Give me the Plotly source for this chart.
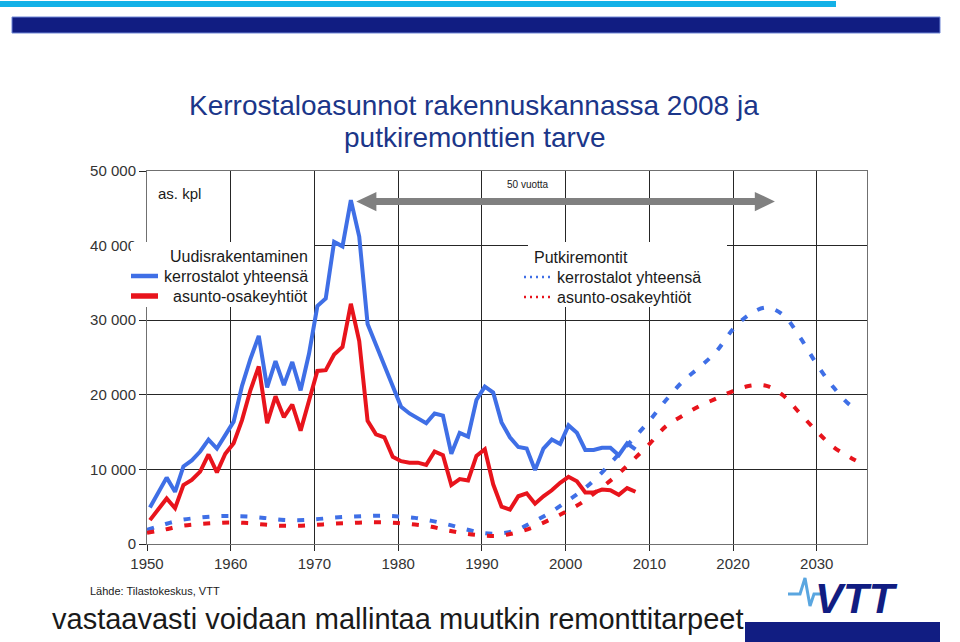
import plotly.graph_objects as go

# ---------------- data (values in thousands of dwellings) ----------------
years_new = list(range(1950, 2009))
new_total = [4.9, 6.8, 8.9, 7.0, 10.4, 11.2, 12.4, 14.0, 12.8, 14.6,
             16.4, 21.2, 24.8, 27.9, 21.0, 24.5, 21.3, 24.4, 20.6, 25.5,
             31.9, 32.9, 40.5, 39.9, 46.1, 41.2, 29.5, 26.7, 23.9, 21.0,
             18.4, 17.5, 16.8, 16.2, 17.5, 17.2, 12.1, 14.9, 14.4, 19.3,
             21.1, 20.3, 16.3, 14.3, 13.0, 12.8, 9.9, 12.8, 14.0, 13.4,
             15.9, 14.9, 12.6, 12.6, 12.9, 12.9, 11.9, 13.5, 12.7]
new_coop = [3.2, 4.6, 6.1, 4.8, 7.9, 8.6, 9.7, 12.0, 9.6, 12.1,
            13.5, 16.6, 20.6, 23.8, 16.2, 19.8, 17.0, 18.7, 15.2, 19.2,
            23.2, 23.3, 25.4, 26.4, 32.2, 27.2, 16.5, 14.7, 14.3, 11.7,
            11.1, 10.9, 10.9, 10.6, 12.4, 11.9, 7.9, 8.7, 8.5, 11.8,
            12.7, 8.0, 5.0, 4.6, 6.4, 6.8, 5.4, 6.4, 7.2, 8.2,
            9.0, 8.4, 6.9, 6.9, 7.3, 7.2, 6.6, 7.5, 7.0]

years_pipe = [1950, 1952, 1954, 1956, 1958, 1960, 1962, 1964, 1966, 1968,
              1970, 1972, 1974, 1976, 1978, 1980, 1982, 1984, 1986, 1988,
              1990, 1992, 1994, 1996, 1998, 2000, 2002, 2004, 2006, 2008,
              2010, 2012, 2014, 2016, 2018, 2020, 2022, 2024, 2026, 2028,
              2030, 2032, 2034, 2035]
pipe_total = [1.9, 2.6, 3.2, 3.5, 3.7, 3.75, 3.7, 3.5, 3.25, 3.2,
              3.3, 3.5, 3.65, 3.75, 3.8, 3.7, 3.5, 3.1, 2.6, 2.0,
              1.5, 1.4, 1.8, 2.9, 4.1, 5.6, 7.2, 9.2, 11.6, 14.0,
              16.5, 19.3, 21.8, 23.7, 25.8, 28.8, 30.8, 31.7, 30.7, 27.7,
              24.1, 21.0, 18.6, 18.0]
pipe_coop = [1.5, 1.9, 2.4, 2.65, 2.8, 2.9, 2.8, 2.6, 2.45, 2.45,
             2.55, 2.7, 2.8, 2.9, 2.9, 2.8, 2.6, 2.3, 1.8, 1.4,
             1.15, 1.1, 1.5, 2.2, 3.2, 4.3, 5.6, 7.3, 9.1, 11.2,
             13.4, 15.8, 17.2, 18.5, 19.5, 20.5, 21.2, 21.2, 19.9, 17.5,
             15.1, 13.0, 11.6, 11.0]

x_ticks = [1950, 1960, 1970, 1980, 1990, 2000, 2010, 2020, 2030]
y_ticks = [0, 10000, 20000, 30000, 40000, 50000]
y_tick_labels = ["0", "10 000", "20 000", "30 000", "40 000", "50 000"]

arrow_years = [1975, 2025]
arrow_level = 45900

BLUE = "#3f6fe6"
RED = "#e8141c"
NAVY = "#111d82"
CYAN = "#14b1e7"
FONT = "Liberation Sans, Arial, sans-serif"
GRID = "#262626"

W, H = 960, 642
L, R, T, B = 147, 93, 171, 98
PW, PH = W - L - R, H - T - B


def px(x):
    return (x - L) / PW


def py(y):
    return (H - B - y) / PH


fig = go.Figure()
fig.add_trace(go.Scatter(x=[y + 0.35 for y in years_new], y=[v * 1000 for v in new_total],
                         mode="lines", line=dict(color=BLUE, width=4), hoverinfo="skip"))
fig.add_trace(go.Scatter(x=[y + 0.35 for y in years_new], y=[v * 1000 for v in new_coop],
                         mode="lines", line=dict(color=RED, width=4), hoverinfo="skip"))
fig.add_trace(go.Scatter(x=years_pipe, y=[v * 1000 for v in pipe_total],
                         mode="lines", line=dict(color=BLUE, width=4, dash="7px,12px"),
                         line_shape="spline", hoverinfo="skip"))
fig.add_trace(go.Scatter(x=years_pipe, y=[v * 1000 for v in pipe_coop],
                         mode="lines", line=dict(color=RED, width=4, dash="7px,12px"),
                         line_shape="spline", hoverinfo="skip"))

shapes = []
# header bars
shapes.append(dict(type="rect", xref="paper", yref="paper", x0=px(0), x1=px(836), y0=py(7), y1=py(1),
                   fillcolor=CYAN, line=dict(width=0), layer="above"))
shapes.append(dict(type="rect", xref="paper", yref="paper", x0=px(12), x1=px(940), y0=py(33), y1=py(17),
                   fillcolor=NAVY, line=dict(color="#6f86d6", width=1), layer="above"))
# bottom right navy bar
shapes.append(dict(type="rect", xref="paper", yref="paper", x0=px(745), x1=px(940), y0=py(642), y1=py(622),
                   fillcolor=NAVY, line=dict(width=0), layer="above"))
# legend boxes (white, cover gridlines)
shapes.append(dict(type="rect", xref="paper", yref="paper", x0=px(131), x1=px(314), y0=py(307), y1=py(242),
                   fillcolor="white", line=dict(width=0), layer="above"))
shapes.append(dict(type="rect", xref="paper", yref="paper", x0=px(528), x1=px(727), y0=py(307), y1=py(242),
                   fillcolor="white", line=dict(width=0), layer="above"))
# legend samples
shapes.append(dict(type="line", xref="paper", yref="paper", x0=px(131), x1=px(158), y0=py(276), y1=py(276),
                   line=dict(color=BLUE, width=4.5), layer="above"))
shapes.append(dict(type="line", xref="paper", yref="paper", x0=px(131), x1=px(158), y0=py(296), y1=py(296),
                   line=dict(color=RED, width=5.5), layer="above"))
shapes.append(dict(type="line", xref="paper", yref="paper", x0=px(524), x1=px(550), y0=py(277), y1=py(277),
                   line=dict(color=BLUE, width=2.5, dash="2px,4px"), layer="above"))
shapes.append(dict(type="line", xref="paper", yref="paper", x0=px(524), x1=px(550), y0=py(297), y1=py(297),
                   line=dict(color=RED, width=2.5, dash="2px,4px"), layer="above"))
# 50-year arrow (data coordinates)
a0, a1 = arrow_years
hl, hh = 2.4, 1300
shapes.append(dict(type="line", xref="x", yref="y", x0=a0 + hl * 0.8, x1=a1 - hl * 0.8,
                   y0=arrow_level, y1=arrow_level, line=dict(color="#808080", width=7), layer="above"))
shapes.append(dict(type="path", xref="x", yref="y",
                   path=f"M {a0},{arrow_level} L {a0 + hl},{arrow_level + hh} L {a0 + hl},{arrow_level - hh} Z",
                   fillcolor="#808080", line=dict(width=0), layer="above"))
shapes.append(dict(type="path", xref="x", yref="y",
                   path=f"M {a1},{arrow_level} L {a1 - hl},{arrow_level + hh} L {a1 - hl},{arrow_level - hh} Z",
                   fillcolor="#808080", line=dict(width=0), layer="above"))
# VTT logo pulse
pulse = [(788, 594), (800, 594), (805, 578), (810, 606), (814, 594), (821, 594)]
path = "M " + " L ".join(f"{px(a)},{py(b)}" for a, b in pulse)
shapes.append(dict(type="path", xref="paper", yref="paper", path=path,
                   line=dict(color="#5aa6e0", width=3), layer="above"))

ann = []


def text(x, y, s, size, color="#1a1a1a", xanchor="left", family=FONT, **kw):
    ann.append(dict(x=px(x), y=py(y), xref="paper", yref="paper", text=s, showarrow=False,
                    xanchor=xanchor, yanchor="middle", font=dict(size=size, color=color, family=family), **kw))


text(474, 105, "Kerrostaloasunnot rakennuskannassa 2008 ja", 28, color="#1b3689", xanchor="center")
text(474, 138, "putkiremonttien tarve", 28, color="#1b3689", xanchor="center")
text(156, 193, "as. kpl", 15)
text(310, 256, "Uudisrakentaminen", 16, xanchor="right")
text(310, 276, "kerrostalot yhteensä", 16, xanchor="right")
text(310, 296, "asunto-osakeyhtiöt", 16, xanchor="right")
text(532, 257, "Putkiremontit", 16)
text(555, 277, "kerrostalot yhteensä", 16)
text(555, 297, "asunto-osakeyhtiöt", 16)
text(528, 184, "50 vuotta", 10, xanchor="center")
text(88, 591, "Lähde: Tilastokeskus, VTT", 11)
text(50, 619, "vastaavasti voidaan mallintaa muutkin remonttitarpeet", 29)
text(856, 598, "<b><i>VTT</i></b>", 42, color=NAVY, xanchor="center")

fig.update_layout(
    width=W, height=H,
    margin=dict(l=L, r=R, t=T, b=B, pad=0),
    paper_bgcolor="white", plot_bgcolor="white",
    showlegend=False,
    shapes=shapes, annotations=ann,
    font=dict(family=FONT, color="#333333", size=15),
)
fig.update_xaxes(range=[1950, 2036], tickvals=x_ticks, showgrid=True, gridcolor=GRID, gridwidth=1.3,
                 showline=True, linecolor="#707070", linewidth=1, mirror=True, zeroline=False,
                 ticks="outside", ticklen=6, tickcolor=GRID, tickfont=dict(size=15, color="#333333"))
fig.update_yaxes(range=[0, 50000], tickvals=y_ticks, ticktext=y_tick_labels, showgrid=True,
                 gridcolor=GRID, gridwidth=1.3, showline=True, linecolor="#707070", linewidth=1,
                 mirror=True, zeroline=False, ticks="outside", ticklen=7, tickcolor=GRID,
                 tickfont=dict(size=15, color="#333333"))

fig.write_html("out.html")
